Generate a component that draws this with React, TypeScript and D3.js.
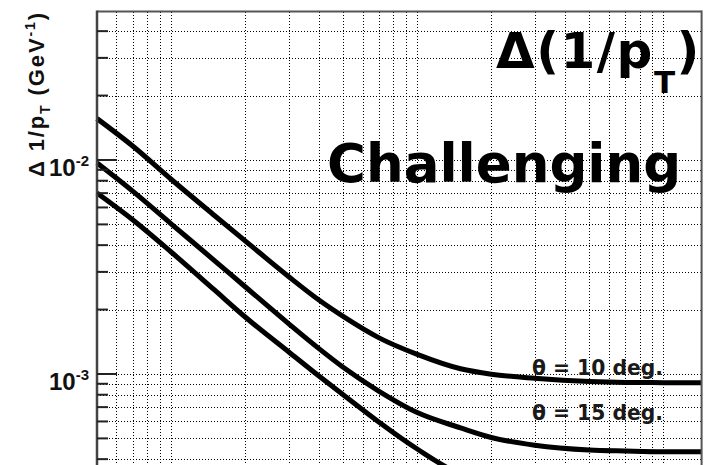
import React, { useEffect, useRef } from 'react';
import * as d3 from 'd3';

// transverse momentum sample points (GeV) and resolution
const pValues = [0.5, 0.7, 1, 1.5, 2, 3, 4, 5, 7, 10, 15, 20, 30, 50, 70, 100, 143];
const res10deg = [1.561e-2, 1.159e-2, 8.125e-3, 5.505e-3, 4.188e-3, 2.855e-3, 2.21e-3, 1.858e-3, 1.475e-3, 1.235e-3, 1.058e-3, 9.98e-4, 9.55e-4, 9.22e-4, 9.13e-4, 9.11e-4, 9.1e-4];
const res15deg = [9.683e-3, 7.133e-3, 5.033e-3, 3.388e-3, 2.556e-3, 1.72e-3, 1.31e-3, 1.075e-3, 8.3e-4, 6.6e-4, 5.6e-4, 5.05e-4, 4.648e-4, 4.415e-4, 4.368e-4, 4.335e-4, 4.335e-4];
const res20deg = [7.011e-3, 5.243e-3, 3.716e-3, 2.469e-3, 1.846e-3, 1.27e-3, 9.75e-4, 8.0e-4, 5.95e-4, 4.46e-4, 3.4e-4, 3.1e-4, 2.9e-4, 2.8e-4, 2.77e-4, 2.76e-4, 2.75e-4];
const curveLabels = ['θ = 10 deg.', 'θ = 15 deg.', 'θ = 20 deg.'];
const yTickLabels = [{ value: 1e-2, exp: '-2' }, { value: 1e-3, exp: '-3' }];

const WIDTH = 707;
const HEIGHT = 465;

const App: React.FC = () => {
  const svgRef = useRef<SVGSVGElement>(null);

  useEffect(() => {
    if (!svgRef.current) return;
    const svg = d3.select(svgRef.current);
    svg.selectAll('*').remove();

    const left = 97;
    const right = 701.6;
    const top = 10.4;
    const decade = 214;

    const x = d3.scaleLog().domain([0.5, 143]).range([left, right]);
    const y = d3.scaleLog()
      .domain([2e-4, 0.05])
      .range([top + decade * Math.log10(0.05 / 2e-4), top]);
    const bottom = y(2e-4);

    // log ticks 1..9 per decade
    const logTicks = (lo: number, hi: number) => {
      const out: { v: number; major: boolean }[] = [];
      for (let k = Math.floor(Math.log10(lo)); k <= Math.ceil(Math.log10(hi)); k++) {
        for (let m = 1; m <= 9; m++) {
          const v = m * Math.pow(10, k);
          if (v > lo * 1.001 && v < hi * 0.999) out.push({ v, major: m === 1 });
        }
      }
      return out;
    };
    const xTicks = logTicks(0.5, 143);
    const yTicks = logTicks(2e-4, 0.05);

    const grid = svg.append('g')
      .attr('stroke', '#000')
      .attr('stroke-width', 1)
      .attr('stroke-dasharray', '1,2')
      .attr('shape-rendering', 'crispEdges');

    grid.selectAll('.vgrid')
      .data(xTicks)
      .enter().append('line')
      .attr('x1', d => Math.round(x(d.v)) + 0.5)
      .attr('x2', d => Math.round(x(d.v)) + 0.5)
      .attr('y1', top + 2)
      .attr('y2', bottom);

    grid.selectAll('.hgrid')
      .data(yTicks)
      .enter().append('line')
      .attr('x1', left)
      .attr('x2', right)
      .attr('y1', d => Math.round(y(d.v)) + 0.5)
      .attr('y2', d => Math.round(y(d.v)) + 0.5);

    // curves
    const line = d3.line<number>()
      .x((_, i) => x(pValues[i]))
      .y(d => y(d))
      .curve(d3.curveMonotoneX);

    [res10deg, res15deg, res20deg].forEach(series => {
      svg.append('path')
        .datum(series)
        .attr('d', line)
        .attr('fill', 'none')
        .attr('stroke', '#000')
        .attr('stroke-width', 5)
        .attr('stroke-linejoin', 'round');
    });

    // curve labels
    const labelBaselines = [375, 420, 481];
    curveLabels.forEach((t, i) => {
      svg.append('text')
        .attr('x', 532)
        .attr('y', labelBaselines[i])
        .attr('textLength', 131)
        .attr('lengthAdjust', 'spacingAndGlyphs')
        .style('font-family', '"DejaVu Sans", sans-serif')
        .style('font-weight', 'bold')
        .style('font-size', '21px')
        .style('fill', '#1a1a1a')
        .text(t);
    });

    // big titles
    const title = svg.append('text')
      .attr('x', 496)
      .attr('y', 68)
      .style('font-family', '"DejaVu Sans", sans-serif')
      .style('font-weight', 'bold')
      .style('font-size', '50px')
      .style('letter-spacing', '1.5px')
      .style('fill', '#000');
    title.append('tspan').text('Δ(1/p');
    title.append('tspan').attr('dy', 25).style('font-size', '31px').text('T');
    title.append('tspan').attr('dy', -25).text(')');

    svg.append('text')
      .attr('x', 327)
      .attr('y', 182)
      .style('font-family', '"DejaVu Sans", sans-serif')
      .style('font-weight', 'bold')
      .style('font-size', '53px')
      .style('fill', '#000')
      .text('Challenging');

    // frame
    svg.append('line')
      .attr('x1', left).attr('x2', right)
      .attr('y1', top + 1).attr('y2', top + 1)
      .attr('stroke', '#555').attr('stroke-width', 2);
    svg.append('line')
      .attr('x1', right).attr('x2', right)
      .attr('y1', top).attr('y2', bottom)
      .attr('stroke', '#555').attr('stroke-width', 2);
    svg.append('line')
      .attr('x1', left).attr('x2', left)
      .attr('y1', top).attr('y2', bottom)
      .attr('stroke', '#444').attr('stroke-width', 2.5);

    // y ticks (inward)
    svg.selectAll('.ytick')
      .data(yTicks)
      .enter().append('line')
      .attr('x1', left)
      .attr('x2', d => left + (d.major ? 20 : 11))
      .attr('y1', d => y(d.v))
      .attr('y2', d => y(d.v))
      .attr('stroke', '#222')
      .attr('stroke-width', 2);

    // y tick labels
    yTickLabels.forEach(t => {
      const lbl = svg.append('text')
        .attr('x', 89)
        .attr('y', y(t.value) + 16)
        .attr('text-anchor', 'end')
        .style('font-family', '"Liberation Sans", Arial, sans-serif')
        .style('font-weight', 'bold')
        .style('font-size', '24px')
        .style('fill', '#111');
      lbl.append('tspan').text('10');
      lbl.append('tspan').attr('dy', -10).style('font-size', '15px').text(t.exp);
    });

    // y axis title
    const yTitle = svg.append('text')
      .attr('transform', 'translate(44,177) rotate(-90)')
      .attr('x', 0)
      .attr('y', 0)
      .attr('textLength', 164)
      .attr('lengthAdjust', 'spacing')
      .style('font-family', '"Liberation Sans", Arial, sans-serif')
      .style('font-weight', 'bold')
      .style('font-size', '22px')
      .style('fill', '#111');
    yTitle.append('tspan').text('Δ 1/p');
    yTitle.append('tspan').attr('dy', 6).style('font-size', '14px').text('T');
    yTitle.append('tspan').attr('dy', -6).text(' (GeV');
    yTitle.append('tspan').attr('dy', -9).style('font-size', '14px').text('-1');
    yTitle.append('tspan').attr('dy', 9).text(')');
  }, []);

  return (
    <svg
      ref={svgRef}
      width={WIDTH}
      height={HEIGHT}
      style={{ position: 'absolute', left: 0, top: 0, background: '#fff', overflow: 'hidden' }}
    />
  );
};

export default App;
